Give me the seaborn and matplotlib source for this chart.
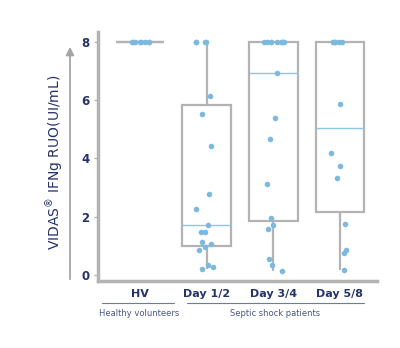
import numpy as np
import pandas as pd
import matplotlib
matplotlib.use("Agg")
import matplotlib.pyplot as plt
from matplotlib.patches import FancyArrowPatch
from matplotlib.lines import Line2D
import seaborn as sns

# ---- data ----
categories = ["HV", "Day 1/2", "Day 3/4", "Day 5/8"]
hv_values = [8, 8, 8, 8, 8, 8, 8, 8]
day12_values = [8, 8, 8, 8, 6.16, 5.53, 4.41, 2.79, 2.27, 1.73, 1.48, 1.48,
                1.13, 1.05, 0.95, 0.84, 0.34, 0.26, 0.19]
day34_values = [8, 8, 8, 8, 8, 8, 8, 8, 8, 6.92, 5.38, 4.65, 3.12, 1.97,
                1.72, 1.59, 0.56, 0.34, 0.15]
day58_values = [8, 8, 8, 8, 8, 8, 5.88, 4.18, 3.75, 3.33, 1.75, 0.84, 0.76, 0.18]
yticks = [0, 2, 4, 6, 8]
group_labels = ["Healthy volunteers", "Septic shock patients"]
ylabel = r"VIDAS$^{\circledR}$ IFNg RUO(UI/mL)"

series = [hv_values, day12_values, day34_values, day58_values]
df = pd.DataFrame({
    "group": np.concatenate([[c] * len(v) for c, v in zip(categories, series)]),
    "value": np.concatenate(series),
})

NAVY = "#25336a"
GRAY = "#b3b3b3"
BLUE = "#7db9df"
MEDIAN = "#8fc6e8"

sns.set_style("white")
plt.rcParams["font.family"] = ["DejaVu Sans"]

fig = plt.figure(figsize=(4.0, 3.48), dpi=100)
ax = fig.add_axes([0.245, 0.1925, 0.6975, 0.7155])

sns.boxplot(data=df, x="group", y="value", order=categories, ax=ax,
            width=0.73, showcaps=False, showfliers=False,
            boxprops=dict(facecolor="white", edgecolor=GRAY, linewidth=1.6),
            whiskerprops=dict(color=GRAY, linewidth=1.6),
            medianprops=dict(color=MEDIAN, linewidth=1.0),
            linecolor=GRAY)

# HV: collapsed box drawn in gray
for cont in ax.containers:
    meds = getattr(cont, "medians", None)
    if meds:
        meds[0].set_color(GRAY)
        meds[0].set_linewidth(1.6)

np.random.seed(3)
sns.stripplot(data=df, x="group", y="value", order=categories, ax=ax,
              color=BLUE, size=4, jitter=0.17, linewidth=0, zorder=5)

ax.set_xlim(-0.63, 3.555)
ax.set_ylim(-0.21, 8.34)
ax.set_yticks(yticks)
ax.set_yticklabels([str(t) for t in yticks], fontweight="bold", color=NAVY,
                   fontsize=8.5)
ax.set_xticks(range(len(categories)))
ax.set_xticklabels(categories, fontweight="bold", color=NAVY, fontsize=8)
ax.tick_params(axis="x", length=0, pad=6)
ax.tick_params(axis="y", length=3, width=1, color=GRAY, pad=3, left=True)
ax.set_xlabel("")
ax.set_ylabel("")
for s in ["top", "right"]:
    ax.spines[s].set_visible(False)
for s in ["left", "bottom"]:
    ax.spines[s].set_color(GRAY)
    ax.spines[s].set_linewidth(2.5)

# group underlines and labels
trans = ax.get_xaxis_transform()
yline = (348 - 303) / 348
ax_line_y = (yline - 0.1925) / 0.7155
for x0, x1 in [(-0.57, 0.51), (0.705, 3.36)]:
    ax.add_line(Line2D([x0, x1], [ax_line_y, ax_line_y], transform=trans,
                       color="#6d7aa6", linewidth=0.8, clip_on=False))
fig.text(139 / 400, 1 - 313 / 348, group_labels[0], ha="center", va="center",
         fontsize=6, color="#4a5682")
fig.text(275 / 400, 1 - 313 / 348, group_labels[1], ha="center", va="center",
         fontsize=6, color="#4a5682")

# arrow and y label
arrow = FancyArrowPatch((70 / 400, 1 - 282 / 348), (70 / 400, 1 - 44 / 348),
                        transform=fig.transFigure, arrowstyle="-|>",
                        mutation_scale=12, color="#a6a6a6", linewidth=1.3)
fig.patches.append(arrow)
fig.text(55.5 / 400, 1 - 162.5 / 348, ylabel, rotation=90, ha="center",
         va="center", fontsize=10, color=NAVY)

fig.savefig("out.png", dpi=100)
